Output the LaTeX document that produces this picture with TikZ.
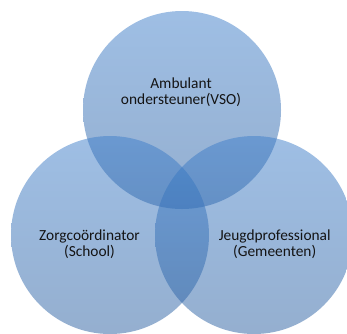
\documentclass[tikz,border=0pt]{standalone}
\usepackage{fontspec}
\setmainfont{Carlito}
\begin{document}
\definecolor{blueTop}{RGB}{62,126,202}
\definecolor{blueBot}{RGB}{42,95,160}
\definecolor{txt}{RGB}{20,20,20}
\begin{tikzpicture}[x=1pt,y=-1pt,
  venn/.style={circle, minimum size=198pt, inner sep=0pt, draw=none,
    top color=blueTop, bottom color=blueBot, fill opacity=0.5},
  lbl/.style={anchor=base, inner sep=0pt, text=txt,
    font=\fontsize{15.4}{15.5}\selectfont}]
\useasboundingbox (0,0) rectangle (347,333);
\clip (0,0) rectangle (347,333);
\node[venn] (ctop) at (182,110) {};
\node[venn] (cleft) at (110,235) {};
\node[venn] (cright) at (254,235) {};
\node[lbl] (ltop) at (181,88.3) {\begin{tabular}[t]{@{}c@{}}Ambulant\\ondersteuner(VSO)\end{tabular}};
\node[lbl] (lleft) at (89.5,240.8) {\begin{tabular}[t]{@{}c@{}}Zorgcoördinator\\(School)\end{tabular}};
\node[lbl] (lright) at (274.7,240.3) {\begin{tabular}[t]{@{}c@{}}Jeugdprofessional\\(Gemeenten)\end{tabular}};
\end{tikzpicture}
\end{document}
